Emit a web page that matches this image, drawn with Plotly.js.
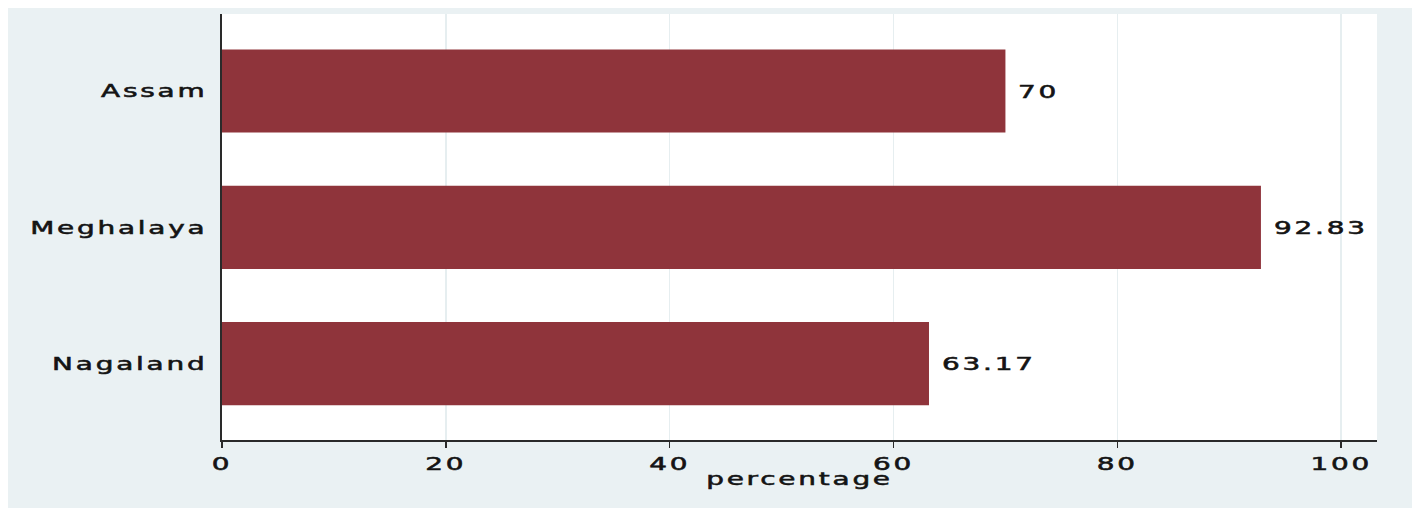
<!DOCTYPE html>
<html>
<head>
<meta charset="utf-8">
<script src="https://cdn.plot.ly/plotly-3.0.1.min.js"></script>
<style>
  html, body { margin: 0; padding: 0; background: #ffffff; width: 1418px; height: 518px; overflow: hidden; }
  #chart { position: absolute; left: 8px; top: 8px; width: 1404px; height: 500px; }
  .xtick text, .ytick text, .annotation-text, .g-xtitle text { letter-spacing: 1.8px; stroke: #141414; stroke-width: 0.55px; }
</style>
</head>
<body>
<div id="chart"></div>
<script>
const states = ["Assam", "Meghalaya", "Nagaland"];
const percentages = [70, 92.83, 63.17];
const valueLabels = ["70", "92.83", "63.17"];
const xTickValues = [0, 20, 40, 60, 80, 100];
const xTickLabels = ["0", "20", "40", "60", "80", "100"];

const textFont = { family: "DejaVu Sans", size: 18, color: "#141414" };
const STRETCH = 1.55;

const trace = {
  type: "bar",
  orientation: "h",
  y: states,
  x: percentages,
  marker: { color: "#8F343B", line: { width: 0 } },
  hoverinfo: "skip"
};

const annotations = states.map((s, i) => ({
  x: percentages[i],
  y: s,
  xref: "x",
  yref: "y",
  text: valueLabels[i],
  showarrow: false,
  xanchor: "left",
  yanchor: "middle",
  xshift: 11,
  font: textFont
}));

const layout = {
  width: 1404,
  height: 500,
  paper_bgcolor: "#EAF1F3",
  plot_bgcolor: "#FFFFFF",
  margin: { l: 214, r: 35, t: 6, b: 68, autoexpand: false },
  bargap: 0.39,
  showlegend: false,
  xaxis: {
    range: [0, 103.2],
    tickvals: xTickValues,
    ticktext: xTickLabels,
    showgrid: true,
    gridcolor: "#E6EEF0",
    gridwidth: 1.5,
    zeroline: false,
    showline: true,
    linecolor: "#2a2a2a",
    linewidth: 2,
    ticks: "outside",
    ticklen: 6,
    tickwidth: 1.5,
    tickcolor: "#2a2a2a",
    ticklabelstandoff: 0,
    tickfont: textFont,
    automargin: false,
    title: { text: "percentage", font: textFont, standoff: 0 }
  },
  yaxis: {
    type: "category",
    categoryorder: "array",
    categoryarray: states,
    range: [2.56, -0.565],
    showgrid: false,
    zeroline: false,
    showline: true,
    linecolor: "#2a2a2a",
    linewidth: 2,
    ticks: "",
    ticklabelstandoff: 9,
    tickfont: textFont,
    automargin: false
  },
  annotations: annotations
};

function stretchText(el, pivotMode) {
  const bb = el.getBBox();
  let px;
  if (pivotMode === "start") px = bb.x;
  else if (pivotMode === "end") px = bb.x + bb.width;
  else px = bb.x + bb.width / 2;
  const prev = el.getAttribute("transform") || "";
  el.setAttribute("transform",
    prev + " translate(" + px + ",0) scale(" + STRETCH + ",1) translate(" + (-px) + ",0)");
}

Plotly.newPlot("chart", [trace], layout, { displayModeBar: false, staticPlot: true }).then(gd => {
  gd.querySelectorAll(".xtick text").forEach(t => stretchText(t, "middle"));
  gd.querySelectorAll(".ytick text").forEach(t => stretchText(t, "end"));
  gd.querySelectorAll(".g-xtitle text").forEach(t => stretchText(t, "middle"));
  gd.querySelectorAll("text.annotation-text").forEach(t => stretchText(t, "start"));
});
</script>
</body>
</html>
